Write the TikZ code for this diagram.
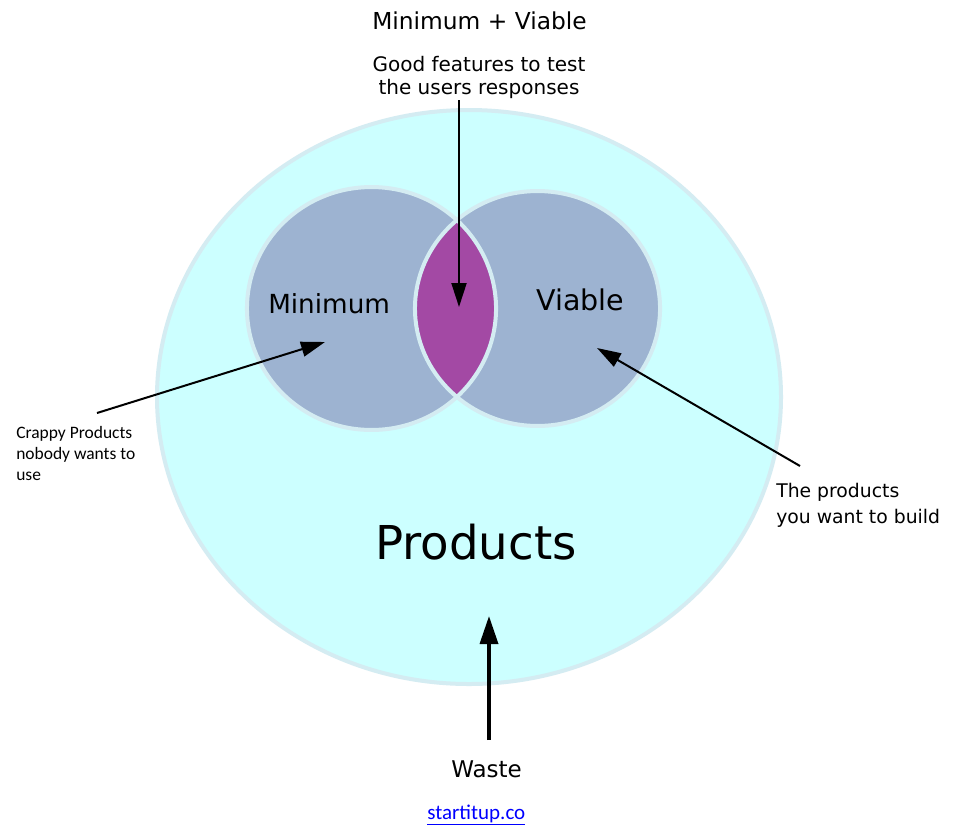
\documentclass[tikz,border=0pt]{standalone}
\usepackage{fontspec}
\setmainfont{DejaVu Sans}
\newfontfamily\calib{Carlito}
\usetikzlibrary{arrows.meta}
\definecolor{prodfill}{RGB}{204,255,255}
\definecolor{ringcol}{RGB}{212,236,242}
\definecolor{circfill}{RGB}{157,179,209}
\definecolor{lensfill}{RGB}{163,73,164}
\definecolor{linkblue}{RGB}{0,0,255}
\tikzset{
  ring/.style={draw=ringcol, line width=3pt},
  ptr/.style={line width=1.5pt, -{Triangle[length=18pt,width=11.25pt]}},
  bigptr/.style={line width=2.6pt, -{Triangle[length=21pt,width=13.5pt]}},
  lbl/.style={inner sep=0pt, text=black},
}
\begin{document}
\begin{tikzpicture}[x=0.75pt,y=-0.75pt]
\useasboundingbox (0,0) rectangle (955,825);
\fill[white] (0,0) rectangle (955,825);
% centres
\coordinate (pc) at (469,397);
\coordinate (lc) at (371.5,308.5);
\coordinate (rc) at (537.5,308.5);
% big ellipse
\fill[prodfill] (pc) ellipse [x radius=234pt, y radius=215.25pt];
\draw[ring] (pc) ellipse [x radius=234pt, y radius=215.25pt];
% small circles
\fill[circfill] (lc) ellipse [x radius=93.4pt, y radius=91.1pt];
\fill[circfill] (rc) ellipse [x radius=91.9pt, y radius=88.1pt];
\begin{scope}
  \clip (lc) ellipse [x radius=93.4pt, y radius=91.1pt];
  \fill[lensfill] (rc) ellipse [x radius=91.9pt, y radius=88.1pt];
\end{scope}
\draw[ring] (lc) ellipse [x radius=93.4pt, y radius=91.1pt];
\draw[ring] (rc) ellipse [x radius=91.9pt, y radius=88.1pt];
% texts
\node[lbl, anchor=base west, font=\fontsize{17.5pt}{21pt}\selectfont] (title) at (372,29) {Minimum + Viable};
\node[lbl, anchor=base, align=center, font=\fontsize{15pt}{17.25pt}\selectfont] (good) at (479,94) {Good features to test\\the users responses};
\node[lbl, anchor=base west, font=\fontsize{19.7pt}{23pt}\selectfont] (mini) at (268,313) {Minimum};
\node[lbl, anchor=base west, font=\fontsize{21.4pt}{25pt}\selectfont] (viab) at (536,310) {Viable};
\node[lbl, anchor=base west, font=\fontsize{35pt}{40pt}\selectfont] (prod) at (375,559) {Products};
\node[lbl, anchor=base west, align=left, font=\fontsize{14.1pt}{19.5pt}\selectfont] (want) at (776,523) {The products\\you want to build};
\node[lbl, anchor=base west, font=\fontsize{17.25pt}{20pt}\selectfont] (waste) at (451,777) {Waste};
\node[lbl, anchor=base west, align=left, font=\calib\fontsize{13.1pt}{15.75pt}\selectfont] (crap) at (16,480) {Crappy Products\\nobody wants to\\use};
\node[lbl, anchor=base west, text=linkblue, font=\calib\fontsize{15.75pt}{18pt}\selectfont] (site) at (427,819) {\underline{startitup.co}};
% arrow ends
\coordinate (t1) at (459,100);
\coordinate (h1) at (459,307);
\coordinate (t2) at (97,413);
\coordinate (h2) at (325,342);
\coordinate (t3) at (800,466);
\coordinate (h3) at (597,348);
\coordinate (t4) at (489,740);
\coordinate (h4) at (489,616);
\draw[ptr] (t1) -- (h1);
\draw[ptr] (t2) -- (h2);
\draw[ptr] (t3) -- (h3);
\draw[bigptr] (t4) -- (h4);
\end{tikzpicture}
\end{document}
